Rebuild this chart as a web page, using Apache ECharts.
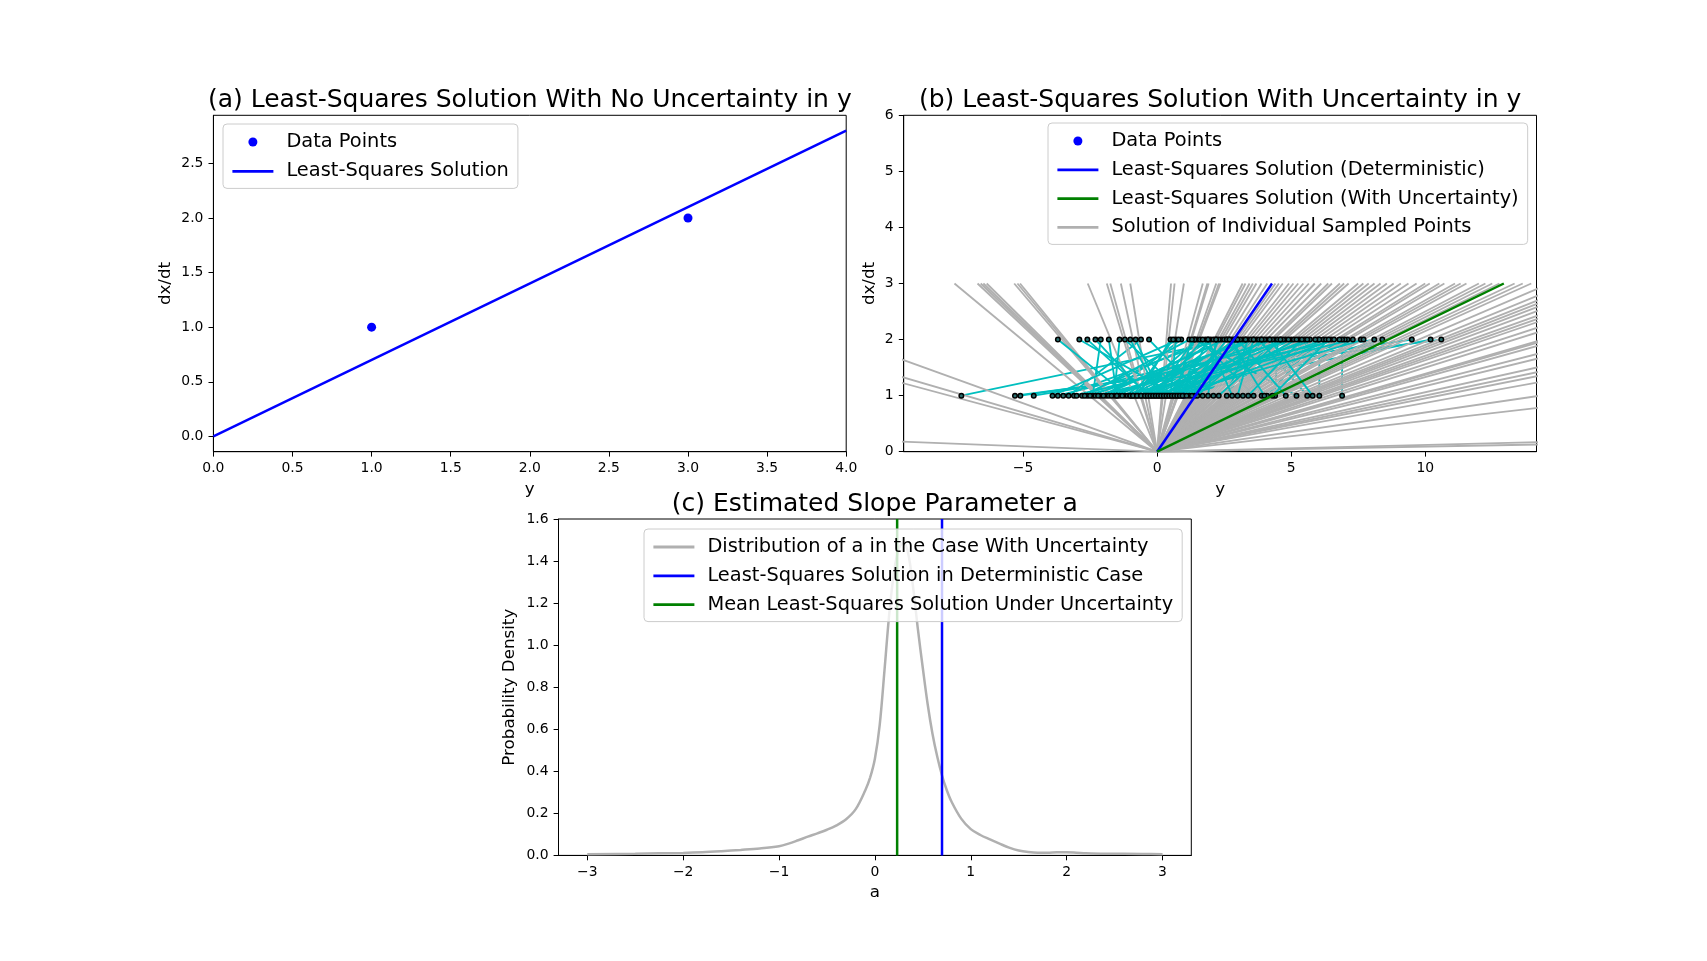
<!DOCTYPE html>
<html><head><meta charset="utf-8">
<script src="https://cdn.jsdelivr.net/npm/echarts@6/dist/echarts.min.js"></script>
<style>html,body{margin:0;padding:0;background:#fff}#c{width:1707px;height:961px}</style>
</head><body><div id="c"></div>
<script>
// ---------------- data ----------------
const dataY = [1, 3];                 // y of the two observed points
const dataDxdt = [1, 2];              // dx/dt of the two observed points
const slopeDeterministic = 0.7;       // least-squares slope, deterministic
const slopeMeanUncertain = 0.232;     // mean least-squares slope under uncertainty
const lineXRangeA = [0, 4];           // x extent of the line in panel (a)
const dxdtTop = 3;                    // dx/dt where sampled solution lines end in (b)

// sampled y values (panel b): first for dx/dt = 1, second for dx/dt = 2
const sampledY1 = [-7.3, -5.3, -5.1, -4.6, -3.7, -3.5, -3.3, -3.1, -2.8, -2.6,
  -2.4, -2.3, -2.1, -1.9, -1.8, -1.6, -1.5, -1.4, -1.2, -1.1,
  -1.0, -0.9, -0.8, -0.7, -0.6, -0.5, -0.4, -0.3, -0.2, -0.1,
  0.0, 0.1, 0.2, 0.3, 0.4, 0.5, 0.6, 0.7, 0.8, 0.9,
  1.0, 1.2, 1.4, 1.7, 2.1, 2.6, 3.2, 3.6, 3.9, 4.1,
  4.4, 5.2, 5.6, 6.05, 6.9,
  -3.0, -2.7, -2.5, -2.2, -2.0, -1.7, -1.5, -1.3, -1.0, -0.9,
  -0.75, -0.6, -0.45, -0.35, -0.25, -0.15, -0.05, 0.05, 0.15, 0.25,
  0.35, 0.45, 0.55, 0.65, 0.75, 0.85, 0.95, 1.1, 1.3, 1.5,
  1.9, 2.3, 2.8, 3.0, 3.4, 4.0, 4.3, 4.8, 5.8, -3.9];
const sampledY2 = [2.7, 10.6, 9.5, 8.1, 4.6, 2.2, -0.6, 5.3, 1.8, 3.9,
  -2.1, 6.2, 2.6, 0.9, 4.1, -1.4, 3.3, 7.6, 2.0, -3.7,
  4.8, 1.5, 5.7, 0.5, 3.0, 10.2, 2.4, -2.6, 4.4, 1.4,
  6.5, -1.0, 3.7, 2.9, 7.1, 0.7, 5.0, -2.9, 3.2, 1.9,
  8.4, 4.2, 2.3, -0.3, 7.0, 3.4, 5.5, 1.6, 2.8, 6.0,
  4.5, 1.4, 3.8, 6.05, 6.9,
  5.1, 1.2, 3.6, 6.8, 2.5, 4.3, -1.8, 7.3, 3.1, 0.6,
  5.9, 2.1, 4.7, -2.3, 3.5, 6.3, 1.7, 4.9, -0.8, 2.9,
  5.6, 3.3, 7.7, 1.3, 4.0, 6.6, 2.6, -1.2, 5.2, 3.9,
  2.2, 4.6, 1.9, 3.6, 5.4, 2.7, 6.4, 3.0, 4.2, 0.8];

// slopes of the individual sampled solutions (panel b grey lines)
const sampledSlopes = [
  -0.019, -0.129, -0.140, -0.173, -0.397, -0.448, -0.456, -0.463, -0.472, -0.563,
  -0.576, -0.587, -1.16, -1.60, -1.72, -2.22, -3.0,
  5.77, 4.6, 3.0, 1.76, 1.6, 1.56, 1.36, 1.3, 1.27,
  0.94, 0.91, 0.87, 0.84, 0.81, 0.77, 0.73,
  0.68, 0.66, 0.64, 0.61, 0.59, 0.57, 0.55, 0.53, 0.51, 0.49,
  0.47, 0.46, 0.44, 0.43, 0.42, 0.40, 0.39, 0.38, 0.37, 0.36,
  0.35, 0.34, 0.33, 0.32, 0.31, 0.30, 0.295, 0.285, 0.28, 0.27,
  0.265, 0.26, 0.25, 0.245, 0.24, 0.235, 0.225, 0.22, 0.215,
  0.205, 0.196, 0.190, 0.186, 0.182, 0.177, 0.171, 0.167, 0.163, 0.156,
  0.150, 0.139, 0.137, 0.133, 0.123, 0.117, 0.106, 0.100, 0.095, 0.087,
  0.070, 0.055, 0.012, 0.009];

// density of a (panel c)
const kdeA = [-3.0, -2.5, -2.0, -1.8, -1.6, -1.4, -1.2, -1.0, -0.9, -0.8, -0.7, -0.6, -0.5, -0.4,
  -0.3, -0.2, -0.1, -0.05, 0.0, 0.05, 0.1, 0.15, 0.2, 0.25, 0.3, 0.35, 0.4, 0.45, 0.5, 0.55, 0.6,
  0.65, 0.7, 0.75, 0.8, 0.9, 1.0, 1.1, 1.2, 1.3, 1.4, 1.5, 1.6, 1.7, 1.8, 1.9, 2.0, 2.1, 2.2,
  2.4, 2.6, 2.8, 3.0];
const kdeDensity = [0.005, 0.008, 0.012, 0.015, 0.020, 0.026, 0.033, 0.044, 0.056, 0.072, 0.089, 0.105, 0.122, 0.143,
  0.172, 0.22, 0.31, 0.37, 0.46, 0.62, 0.88, 1.15, 1.35, 1.46, 1.49, 1.43, 1.27, 1.07, 0.89, 0.72, 0.58,
  0.47, 0.38, 0.31, 0.255, 0.175, 0.125, 0.097, 0.076, 0.056, 0.037, 0.023, 0.016, 0.013, 0.013, 0.015, 0.015, 0.013, 0.010,
  0.008, 0.008, 0.007, 0.005];

// tick values
const ticksAX = [0, 0.5, 1, 1.5, 2, 2.5, 3, 3.5, 4];
const ticksAY = [0, 0.5, 1, 1.5, 2, 2.5];
const ticksBX = [-5, 0, 5, 10];
const ticksBY = [0, 1, 2, 3, 4, 5, 6];
const ticksCX = [-3, -2, -1, 0, 1, 2, 3];
const ticksCY = [0, 0.2, 0.4, 0.6, 0.8, 1.0, 1.2, 1.4, 1.6];

// axis limits
const limAX = [0, 4], limAY = [-0.14, 2.94];
const limBX = [-9.45, 14.15], limBY = [0, 6];
const limCX = [-3.3, 3.3], limCY = [0, 1.6];

// ---------------- chart ----------------
const FONT = 'DejaVu Sans';
const BLUE = '#0000ff', GREEN = '#008000', GREY = '#b0b0b0', CYAN = '#00bfbf';
const minus = s => String(s).replace('-', '\u2212');
const fmt1 = v => minus(Number(v).toFixed(1));
const fmt0 = v => minus(Math.round(v));

const grids = [
  {left: 213.4, top: 115.3, width: 632.8, height: 336.4},
  {left: 903.7, top: 115.3, width: 632.8, height: 336.4},
  {left: 558.5, top: 519.0, width: 632.8, height: 336.4}
].map(g => Object.assign({show: true, borderColor: '#000', borderWidth: 1, backgroundColor: 'transparent', containLabel: false, outerBoundsMode: 'none'}, g));

function axis(gi, lim, ticks, fmt, name, nameGap) {
  return {
    gridIndex: gi, type: 'value', min: lim[0], max: lim[1],
    name: name, nameLocation: 'middle', nameGap: nameGap,
    nameTextStyle: {fontFamily: FONT, fontSize: 16.7, color: '#000'},
    axisLine: {show: true, onZero: false, lineStyle: {color: '#000', width: 1}},
    axisTick: {show: true, inside: false, length: 4.9, customValues: ticks, lineStyle: {color: '#000', width: 1}},
    axisLabel: {show: true, customValues: ticks, formatter: fmt, margin: 10, fontFamily: FONT, fontSize: 13.9, color: '#000'},
    splitLine: {show: false}
  };
}

const xAxes = [
  axis(0, limAX, ticksAX, fmt1, 'y', 29),
  axis(1, limBX, ticksBX, fmt0, 'y', 29),
  axis(2, limCX, ticksCX, fmt0, 'a', 29)
];
const yAxes = [
  axis(0, limAY, ticksAY, fmt1, 'dx/dt', 39.5),
  axis(1, limBY, ticksBY, fmt0, 'dx/dt', 26),
  axis(2, limCY, ticksCY, fmt1, 'Probability Density', 40)
];

const base = {animation: false, silent: true};
const series = [
  // panel (a)
  Object.assign({type: 'scatter', name: 'Data Points', xAxisIndex: 0, yAxisIndex: 0,
    data: dataY.map((y, i) => [y, dataDxdt[i]]), symbol: 'circle', symbolSize: 9,
    itemStyle: {color: BLUE, opacity: 1}, z: 3}, base),
  Object.assign({type: 'line', name: 'Least-Squares Solution', xAxisIndex: 0, yAxisIndex: 0,
    data: lineXRangeA.map(x => [x, slopeDeterministic * x]), symbol: 'none', color: BLUE,
    lineStyle: {color: BLUE, width: 2.5}, z: 2}, base)
];

// panel (b): sampled pairs (cyan) and their individual solutions (grey), drawn interleaved
const nInter = Math.max(sampledY1.length, sampledSlopes.length);
for (let i = 0; i < nInter; i++) {
  if (i < sampledY1.length) {
    series.push(Object.assign({type: 'line', name: 'Sampled Pair', xAxisIndex: 1, yAxisIndex: 1,
      data: [[sampledY1[i], dataDxdt[0]], [sampledY2[i], dataDxdt[1]]], symbol: 'none', color: CYAN,
      lineStyle: {color: CYAN, width: 1.85}, z: 2}, base));
  }
  if (i < sampledSlopes.length) {
    series.push(Object.assign({type: 'line', name: 'Solution of Individual Sampled Points', xAxisIndex: 1, yAxisIndex: 1,
      data: [[0, 0], [dxdtTop / sampledSlopes[i], dxdtTop]], symbol: 'none', color: GREY, clip: true,
      lineStyle: {color: GREY, width: 1.85}, z: 2}, base));
  }
}
const sampledPoints = [];
sampledY1.forEach((y1, i) => { sampledPoints.push([y1, dataDxdt[0]], [sampledY2[i], dataDxdt[1]]); });

series.push(
  Object.assign({type: 'scatter', name: 'Data Points', xAxisIndex: 1, yAxisIndex: 1,
    data: dataY.map((y, i) => [y, dataDxdt[i]]), symbol: 'circle', symbolSize: 6,
    itemStyle: {color: BLUE, opacity: 1}, z: 4}, base),
  Object.assign({type: 'scatter', name: 'Sampled Points', xAxisIndex: 1, yAxisIndex: 1,
    data: sampledPoints, symbol: 'circle', symbolSize: 4.5,
    itemStyle: {color: '#2a6f6f', borderColor: '#000', borderWidth: 1.5, opacity: 1}, z: 4}, base),
  Object.assign({type: 'line', name: 'Least-Squares Solution (Deterministic)', xAxisIndex: 1, yAxisIndex: 1,
    data: [[0, 0], [dxdtTop / slopeDeterministic, dxdtTop]], symbol: 'none', color: BLUE,
    lineStyle: {color: BLUE, width: 2.5}, z: 5}, base),
  Object.assign({type: 'line', name: 'Least-Squares Solution (With Uncertainty)', xAxisIndex: 1, yAxisIndex: 1,
    data: [[0, 0], [dxdtTop / slopeMeanUncertain, dxdtTop]], symbol: 'none', color: GREEN,
    lineStyle: {color: GREEN, width: 2.5}, z: 5}, base),
  // panel (c)
  Object.assign({type: 'line', name: 'Distribution of a in the Case With Uncertainty', xAxisIndex: 2, yAxisIndex: 2,
    data: kdeA.map((a, i) => [a, kdeDensity[i]]), symbol: 'none', smooth: 0.35, color: GREY,
    lineStyle: {color: GREY, width: 2.5}, z: 2}, base),
  Object.assign({type: 'line', name: 'Least-Squares Solution in Deterministic Case', xAxisIndex: 2, yAxisIndex: 2,
    data: limCY.map(v => [slopeDeterministic, v]), symbol: 'none', color: BLUE,
    lineStyle: {color: BLUE, width: 2.5}, z: 3}, base),
  Object.assign({type: 'line', name: 'Mean Least-Squares Solution Under Uncertainty', xAxisIndex: 2, yAxisIndex: 2,
    data: limCY.map(v => [slopeMeanUncertain, v]), symbol: 'none', color: GREEN,
    lineStyle: {color: GREEN, width: 2.5}, z: 3}, base)
);

const lineItem = name => ({name: name, itemStyle: {opacity: 0}, lineStyle: {width: 2.8}});
const dotItem = name => ({name: name});

function legend(left, top, items, gap) {
  return {
    show: true, orient: 'vertical', left: left, top: top, data: items,
    backgroundColor: 'rgba(255,255,255,0.8)', borderColor: '#cccccc', borderWidth: 1, borderRadius: 4,
    padding: [7, 9, 6, 8], itemWidth: 41, itemHeight: 9, itemGap: gap, selectedMode: false,
    lineStyle: {width: 2.8},
    textStyle: {fontFamily: FONT, fontSize: 19.4, color: '#000', lineHeight: 22, padding: [0, 0, 0, 8]},
    z: 10
  };
}

const titleStyle = {fontFamily: FONT, fontSize: 25, fontWeight: 'normal', color: '#000'};
const option = {
  backgroundColor: '#fff',
  animation: false,
  title: [
    {text: '(a) Least-Squares Solution With No Uncertainty in y', left: 529.8, top: 88, textAlign: 'center', textVerticalAlign: 'top', padding: 0, textStyle: titleStyle},
    {text: '(b) Least-Squares Solution With Uncertainty in y', left: 1220.1, top: 88, textAlign: 'center', textVerticalAlign: 'top', padding: 0, textStyle: titleStyle},
    {text: '(c) Estimated Slope Parameter a', left: 874.9, top: 492, textAlign: 'center', textVerticalAlign: 'top', padding: 0, textStyle: titleStyle}
  ],
  grid: grids,
  xAxis: xAxes,
  yAxis: yAxes,
  legend: [
    legend(223, 124, [dotItem('Data Points'), lineItem('Least-Squares Solution')], 7.4),
    legend(1048, 123, [dotItem('Data Points'), lineItem('Least-Squares Solution (Deterministic)'), lineItem('Least-Squares Solution (With Uncertainty)'), lineItem('Solution of Individual Sampled Points')], 6.8),
    legend(644, 529, [lineItem('Distribution of a in the Case With Uncertainty'), lineItem('Least-Squares Solution in Deterministic Case'), lineItem('Mean Least-Squares Solution Under Uncertainty')], 6.8)
  ],
  series: series
};

const chart = echarts.init(document.getElementById('c'), null, {renderer: 'canvas', width: 1707, height: 961});
chart.setOption(option);
</script>
</body></html>
